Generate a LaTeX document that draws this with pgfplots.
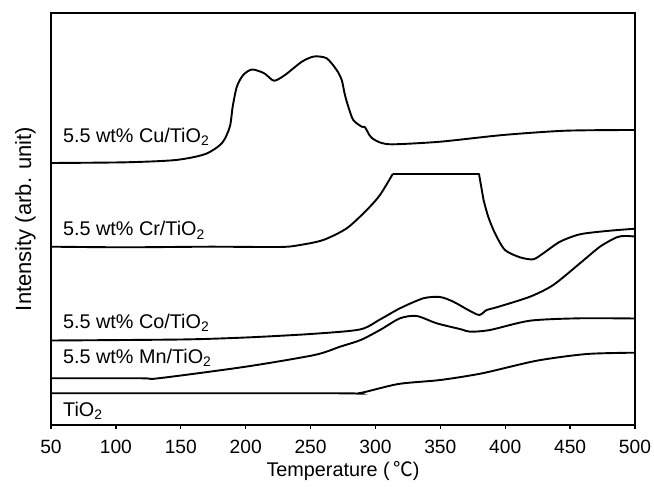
\documentclass[border=0pt]{standalone}
\usepackage{pgfplots}
\pgfplotsset{compat=1.18}
\usepackage{fontspec}
\setmainfont{Liberation Sans}
\newfontfamily\cjk{Noto Sans CJK SC}
\begin{document}
\fontsize{19.8}{23}\selectfont
\begin{tikzpicture}
\useasboundingbox (-51pt,-62pt) rectangle (603pt,425pt);
\begin{axis}[
  scale only axis, width=584pt, height=412pt,
  xmin=50, xmax=500, ymin=62, ymax=474,
  xtick={50,100,...,500}, ytick=\empty,
  xtick pos=left, tick align=outside,
  major tick length=4pt,
  axis line style={line width=2.6pt},
  every tick/.style={black, line width=1.4pt},
  /pgf/number format/assume math mode=true,
  xticklabel style={font=\fontsize{19.2}{23}\selectfont, yshift=-9pt, inner sep=2pt},
  xlabel={Temperature (\,{\cjk ℃})},
  xlabel style={at={(axis description cs:0.5,0)}, anchor=base, yshift=-52pt, inner sep=0pt, font=\fontsize{19.8}{23}\selectfont},
  ylabel={Intensity (arb. unit)},
  ylabel style={at={(axis description cs:-0.0342,0.5)}, anchor=base, inner sep=0pt, font=\fontsize{22}{26}\selectfont},
]
% Cu
\addplot[black, line width=1.9pt, smooth, tension=0.45] coordinates {
(50,324) (107.6,324.7) (146.3,327) (169,333) (181.8,344) (187.8,360.3) (190,380.3)
(193.2,400.3) (198.1,412) (204.9,417.5) (214.3,413.7) (221.8,406.3) (230.3,412)
(243.3,425.3) (252.7,430.5) (262.4,428.7) (270.1,417) (274.0,407) (276.5,392)
(279.1,380.3) (282.9,367) (289.4,360.3) (292.0,359.7) (295.3,352) (298.3,348)
(304.7,344) (314.4,342.7) (350,345.3) (398.4,352) (446.8,356.3) (500,357)};
% Cr
\addplot[black, line width=1.9pt, smooth, tension=0.45] coordinates {
(50,240.3) (107.6,239.7) (172.2,240.3) (226.5,240) (241.9,242) (259.8,247)
(277.9,258.7) (293.3,277) (303.5,292) (313.3,313)};
\addplot[black, line width=1.9pt, sharp plot, line join=round] coordinates {(313.3,313) (379.8,313) (383.3,287)};
\addplot[black, line width=1.9pt, smooth, tension=0.45] coordinates {
(383.3,287) (386.9,270.3) (392.1,253.7) (399.8,237) (411.4,229.7) (421.6,227.7)
(429.3,233.7) (442.2,245.3) (457.6,252.7) (478.2,256) (500,258.3)};
% Co
\addplot[black, line width=1.9pt, smooth, tension=0.45] coordinates {
(50,146.5) (150,147.5) (200,149.5) (250,153) (288,157.5) (303.5,167.5)
(318.9,178.7) (336.9,188.7) (349.7,190) (360,185.3) (371.5,177) (380,172)
(385.7,177) (393.4,179.7) (419.1,190.3) (437,202) (457.6,223.7) (473,240.3)
(485.9,249.7) (492.3,251) (500,250.5)};
% Mn
\addplot[black, line width=1.9pt, smooth, tension=0.45] coordinates {
(50,108.7) (120,108.7) (132.8,108.7) (200,120.3) (253,132) (272.7,140.3)
(288.6,147) (303.5,157) (318.9,168.7) (331.8,171) (347.2,163.7) (365.9,157.7)
(372.9,155.3) (388.3,157) (419.1,166.3) (457.6,168.7) (500,168.5)};
% TiO2
\addplot[black, line width=1.9pt, smooth, tension=0.45] coordinates {
(50,93.7) (270,93.7) (287,93.7) (317.6,103) (350,107) (382.3,113.7)
(424.3,126.3) (463,133) (500,134.3)};
\node[anchor=base west, inner sep=0pt] at (axis cs:59.2,344.3) {5.5 wt\% Cu/TiO\textsubscript{2}};
\node[anchor=base west, inner sep=0pt] at (axis cs:59.2,251) {5.5 wt\% Cr/TiO\textsubscript{2}};
\node[anchor=base west, inner sep=0pt] at (axis cs:59.2,158.7) {5.5 wt\% Co/TiO\textsubscript{2}};
\node[anchor=base west, inner sep=0pt] at (axis cs:59.2,123.7) {5.5 wt\% Mn/TiO\textsubscript{2}};
\node[anchor=base west, inner sep=0pt] at (axis cs:59.2,70.3) {TiO\textsubscript{2}};
\end{axis}
\end{tikzpicture}
\end{document}
